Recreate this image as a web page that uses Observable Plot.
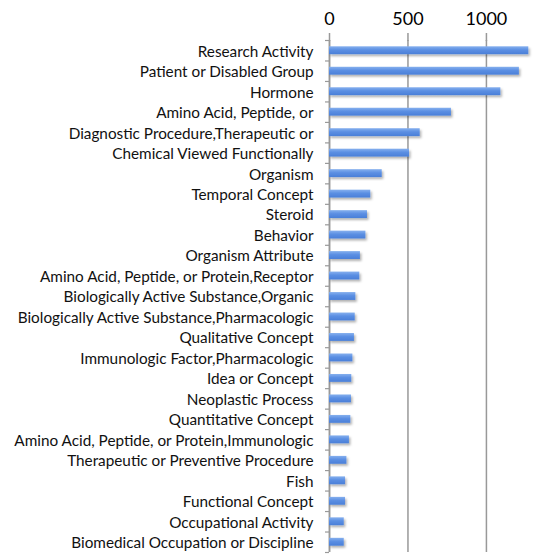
<!DOCTYPE html>
<html>
<head>
<meta charset="utf-8">
<script src="https://cdn.jsdelivr.net/npm/d3@7"></script>
<script src="https://cdn.jsdelivr.net/npm/@observablehq/plot@0.6"></script>
<style>
  html, body { margin: 0; padding: 0; background: #fff; }
  #chart { width: 535px; height: 556px; }
</style>
</head>
<body>
<div id="chart"></div>
<script>
const categories = [
  "Research Activity",
  "Patient or Disabled Group",
  "Hormone",
  "Amino Acid, Peptide, or",
  "Diagnostic Procedure,Therapeutic or",
  "Chemical Viewed Functionally",
  "Organism",
  "Temporal Concept",
  "Steroid",
  "Behavior",
  "Organism Attribute",
  "Amino Acid, Peptide, or Protein,Receptor",
  "Biologically Active Substance,Organic",
  "Biologically Active Substance,Pharmacologic",
  "Qualitative Concept",
  "Immunologic Factor,Pharmacologic",
  "Idea or Concept",
  "Neoplastic Process",
  "Quantitative Concept",
  "Amino Acid, Peptide, or Protein,Immunologic",
  "Therapeutic or Preventive Procedure",
  "Fish",
  "Functional Concept",
  "Occupational Activity",
  "Biomedical Occupation or Discipline"
];
const counts = [1270, 1210, 1092, 777, 578, 510, 336, 263, 242, 232, 197, 193, 168, 164, 159, 149, 142, 140, 136, 127, 111, 102, 102, 94, 94];
const xTicks = [0, 500, 1000];

const data = categories.map((name, i) => ({name, value: counts[i], i}));
const boundaries = d3.range(categories.length + 1);
const centers = categories.map((_, i) => i + 0.5);

const plot = Plot.plot({
  width: 535,
  height: 556,
  marginLeft: 329,
  marginRight: 2,
  marginTop: 40,
  marginBottom: 4,
  style: {fontFamily: "Lato, sans-serif", background: "#fff", color: "#000"},
  x: {domain: [0, 1300], label: null},
  y: {domain: [0, categories.length], reverse: true, label: null},
  marks: [
    Plot.gridX(xTicks, {stroke: "#999", strokeOpacity: 1, strokeWidth: 1.5}),
    Plot.axisX(xTicks, {anchor: "top", label: null, tickSize: 8, stroke: "#999", strokeWidth: 1.5, tickPadding: 8, fontSize: 18, tickFormat: d => String(d)}),
    Plot.ruleX([0], {stroke: "#999", strokeWidth: 1.5}),
    Plot.axisY(boundaries, {anchor: "left", label: null, tickSize: 4, stroke: "#999", strokeWidth: 1.2, tickFormat: () => ""}),
    Plot.axisY(centers, {anchor: "left", label: null, tickSize: 0, tickPadding: 16, fontSize: 15.3, dy: 1, fill: "#111", tickFormat: (d) => categories[Math.floor(d)]}),
    Plot.rectX(data, {x1: 0, x2: "value", y1: "i", y2: d => d.i + 1, insetTop: 6.3, insetBottom: 6.3, fill: "url(#barGrad)", className: "bars"})
  ]
});

const svg = d3.select(plot);
const defs = svg.insert("defs", ":first-child");
const grad = defs.append("linearGradient").attr("id", "barGrad").attr("x1", 0).attr("y1", 0).attr("x2", 0).attr("y2", 1);
grad.append("stop").attr("offset", "0%").attr("stop-color", "#86b0ee");
grad.append("stop").attr("offset", "45%").attr("stop-color", "#5b8fe3");
grad.append("stop").attr("offset", "100%").attr("stop-color", "#4a7fd8");
const f = defs.append("filter").attr("id", "barShadow").attr("x", "-10%").attr("y", "-50%").attr("width", "130%").attr("height", "250%");
f.append("feDropShadow").attr("dx", 1.5).attr("dy", 2).attr("stdDeviation", 1.2).attr("flood-color", "#000").attr("flood-opacity", 0.3);
svg.selectAll("g.bars").attr("filter", "url(#barShadow)");

document.getElementById("chart").appendChild(plot);
</script>
</body>
</html>
